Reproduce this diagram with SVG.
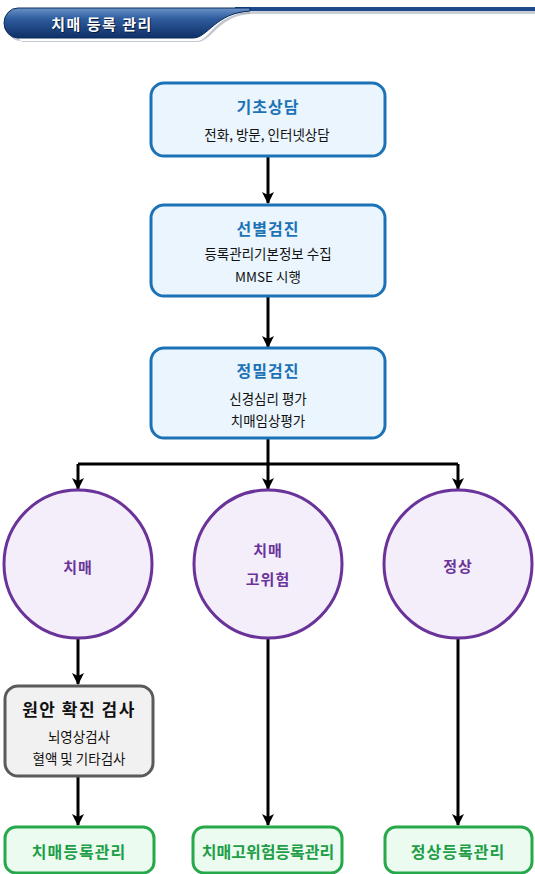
<svg xmlns="http://www.w3.org/2000/svg" width="535" height="874" viewBox="0 0 535 874">
<defs>
<linearGradient id="hdr" x1="0" y1="0" x2="0" y2="1">
<stop offset="0" stop-color="#6a93c8"/>
<stop offset="0.35" stop-color="#2f5d9e"/>
<stop offset="1" stop-color="#0f2f66"/>
</linearGradient>
<marker id="arr" viewBox="0 0 12 12" refX="11" refY="6" markerWidth="12" markerHeight="12" markerUnits="userSpaceOnUse" orient="auto">
<path d="M0,0 L12,6 L0,12 L3,6 Z" fill="#000"/>
</marker>
<style>
.blue rect{fill:#eaf5fd;stroke:#1c72b6;stroke-width:3}
.circ circle{fill:#f4eefb;stroke:#6a3399;stroke-width:3}
.green rect{fill:#ebfbf0;stroke:#27a84a;stroke-width:3}
.gray rect{fill:#f1f1f1;stroke:#5a5a5a;stroke-width:3}
text{font-family:"Noto Sans CJK KR","Malgun Gothic",sans-serif;text-anchor:middle;dominant-baseline:central}
.bt{font-size:16px;font-weight:bold;fill:#1c72b6;letter-spacing:1px}
.st{font-size:13.5px;fill:#111}
.ct{font-size:15px;font-weight:bold;fill:#6a3399;letter-spacing:1px}
.gt{font-size:16px;font-weight:bold;fill:#1f9e48;letter-spacing:1px}
.kt{font-size:17px;font-weight:bold;fill:#111;letter-spacing:1.5px}
.conn path{fill:none;stroke:#000;stroke-width:3}
</style>
</defs>
<rect width="535" height="874" fill="#fff"/>
<g id="header">
<rect x="235" y="11" width="300" height="3" fill="#c8cdd6"/>
<rect x="235" y="7" width="300" height="4" fill="#1d4a8a"/>
<path d="M8 27 Q8 41 22 41 H197 C210 41 214 14 250 12 L250 14 C218 16 212 42 197 42 H22 Z" fill="#9aa3b0" opacity="0.6"/>
<path d="M18 8 H250 L250 11 C215 13 208 38 193 38 H18 A14 15 0 0 1 18 8 Z" fill="url(#hdr)" stroke="#0d2a5c" stroke-width="1"/>
<text x="102" y="23" font-size="15" font-weight="bold" fill="#0a1a3a" letter-spacing="1.5" transform="translate(1,1)">치매 등록 관리</text>
<text x="102" y="23" font-size="15" font-weight="bold" fill="#fff" letter-spacing="1.5">치매 등록 관리</text>
</g>
<g class="conn" id="connectors">
<path d="M268 156 V203" marker-end="url(#arr)"/>
<path d="M268 296 V347" marker-end="url(#arr)"/>
<path d="M268 438 V464"/>
<path d="M78 464 H458"/>
<path d="M78 464 V489" marker-end="url(#arr)"/>
<path d="M268 464 V489" marker-end="url(#arr)"/>
<path d="M458 464 V489" marker-end="url(#arr)"/>
<path d="M78 638 V684" marker-end="url(#arr)"/>
<path d="M78 776 V825" marker-end="url(#arr)"/>
<path d="M268 638 V825" marker-end="url(#arr)"/>
<path d="M458 638 V825" marker-end="url(#arr)"/>
</g>
<g id="n1" class="blue">
<rect x="151" y="83" width="234" height="73" rx="13"/>
<text class="bt" x="268" y="106">기초상담</text>
<text class="st" x="267" y="134">전화, 방문, 인터넷상담</text>
</g>
<g id="n2" class="blue">
<rect x="151" y="205" width="234" height="91" rx="13"/>
<text class="bt" x="268" y="228">선별검진</text>
<text class="st" x="268" y="253">등록관리기본정보 수집</text>
<text class="st" x="268" y="276">MMSE 시행</text>
</g>
<g id="n3" class="blue">
<rect x="151" y="348" width="234" height="90" rx="13"/>
<text class="bt" x="268" y="370">정밀검진</text>
<text class="st" x="268" y="398">신경심리 평가</text>
<text class="st" x="268" y="420">치매임상평가</text>
</g>
<g id="c1" class="circ">
<circle cx="78" cy="564" r="74"/>
<text class="ct" x="78" y="566">치매</text>
</g>
<g id="c2" class="circ">
<circle cx="268" cy="564" r="74"/>
<text class="ct" x="268" y="549">치매</text>
<text class="ct" x="268" y="578">고위험</text>
</g>
<g id="c3" class="circ">
<circle cx="458" cy="564" r="74"/>
<text class="ct" x="458" y="565">정상</text>
</g>
<g id="n4" class="gray">
<rect x="5" y="686" width="148" height="90" rx="13"/>
<text class="kt" x="79" y="708">원안 확진 검사</text>
<text class="st" x="79" y="736">뇌영상검사</text>
<text class="st" x="79" y="758">혈액 및 기타검사</text>
</g>
<g id="g1" class="green">
<rect x="5" y="827" width="149" height="46" rx="11"/>
<text class="gt" x="79" y="851">치매등록관리</text>
</g>
<g id="g2" class="green">
<rect x="193" y="827" width="149" height="46" rx="11"/>
<text class="gt" x="268" y="851" style="letter-spacing:0">치매고위험등록관리</text>
</g>
<g id="g3" class="green">
<rect x="385" y="827" width="147" height="46" rx="11"/>
<text class="gt" x="458" y="851">정상등록관리</text>
</g>
</svg>
